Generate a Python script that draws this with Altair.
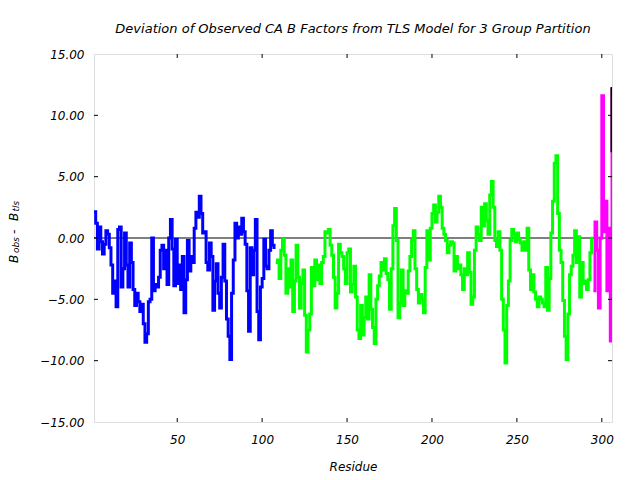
import altair as alt
import pandas as pd

# ---------------- data ----------------
blue_res = list(range(1, 108))
blue_vals = [
    2.15, 1.2, -0.9, 0.9, -0.3, -1.3, -0.5, 0.6, 0.3, -0.8,
    -2.2, -4.5, -3.5, -5.6, 0.7, 0.9, -4.0, -2.5, 0.4, -2.2,
    -4.0, -0.4, -2.0, -4.2, -5.5, -4.5, -5.2, -6.0, -5.4, -7.0,
    -8.5, -7.8, -5.2, -5.0, 0.0, -4.3, -3.8, -4.0, -3.2, -1.0,
    -0.6, -2.5, -1.0, -3.8, 0.0, 1.5, -0.9, -3.9, -0.1, -3.7,
    -2.2, -4.2, -1.5, -6.1, -3.4, -0.2, -2.7, -1.5, -2.0, 0.8,
    2.1, 1.7, 3.4, 2.0, 0.4, 0.5, -2.0, -2.6, -0.4, -1.5,
    -5.9, -3.5, -2.1, -4.5, -5.7, -3.2, -0.5, -3.5, -6.6, -8.0,
    -9.9, -4.5, -1.8, 1.2, 0.0, 0.9, 0.3, 1.6, 0.5, -0.5,
    -4.3, -7.6, -0.8, -3.0, -1.0, 1.5, -6.0, -8.3, -4.0, -3.3,
    -0.1, -2.3, -2.5, -1.0, 0.6, -0.6, -0.9,
]
green_res = list(range(108, 295))
green_vals = [
    -2.0, -1.8, -3.3, -1.0, -0.1, -1.4, -4.5, -2.5, -4.0, -1.8,
    -6.0, -3.5, -0.6, -3.2, -5.7, -3.7, -2.6, -6.3, -9.3, -7.5,
    -6.2, -2.4, -3.9, -1.8, -3.4, -2.2, -3.7, -2.0, -1.5, 0.5,
    0.4, 0.7, -0.6, -1.4, -3.2, -5.7, -4.5, -0.5, -1.2, -1.5,
    -2.5, -3.7, -1.2, -0.9, -4.4, -3.8, -2.3, -4.8, -7.5, -8.2,
    -5.5, -7.9, -6.5, -4.8, -6.6, -3.0, -5.8, -7.3, -8.6, -5.0,
    -3.9, -3.1, -2.0, -2.6, -1.7, -2.9, -3.4, -5.8, -2.5, 1.0,
    2.4, -0.2, -6.5, -5.3, -2.6, -5.5, -4.3, -4.5, -2.7, -1.5,
    -0.2, 0.6, -2.5, -4.2, -5.3, -4.6, -5.0, -6.1, -2.4, 0.6,
    -1.8, 0.8, 2.0, 2.7, 1.3, 2.1, 3.4, 2.5, 0.8, 0.3,
    -0.2, -1.2, -0.6, -0.3, -0.4, -2.7, -1.5, -2.5, -2.2, -3.0,
    -4.2, -2.5, -3.0, -1.2, -2.8, -5.4, -4.8, -1.0, 0.9, 0.3,
    -0.2, 2.5, 1.0, 2.8, 1.4, 0.3, 3.5, 4.6, 2.5, -0.2,
    -0.7, 0.5, -1.0, -5.0, -7.5, -10.2, -5.5, -3.5, -0.2, 0.7,
    0.3, -0.3, 0.4, -0.1, -0.4, -1.0, -0.3, -1.0, 0.8, -2.6,
    -4.2, -3.0, -4.4, -5.0, -5.6, -4.8, -5.0, -5.3, -5.6, -2.4,
    -5.9, -3.3, 0.4, 3.0, 6.1, 6.7, 2.0, -1.0, -2.0, -5.1,
    -8.0, -9.9, -6.2, -3.0, -2.3, -1.4, 0.6, -2.0, 0.1, -4.8,
    -2.0, -3.7, -3.5, -4.2, -3.4, -1.2, 0.1,
]
magenta_res = list(range(295, 307))
magenta_vals = [-4.3, 1.3, -1.0, -5.7, 0.0, 11.6, 0.5, 3.0, -4.3, 0.8, -8.4, 12.2]
black_res = [306, 306]
black_vals = [12.3, 7.0]

groups = ["g1", "g2", "g3", "g4"]
group_colors = ["#0000ff", "#00ff00", "#ff00ff", "#000000"]

x_ticks = [50, 100, 150, 200, 250, 300]
y_ticks = [-15, -10, -5, 0, 5, 10, 15]
y_inner_ticks = [-10, -5, 0, 5, 10]

title_text = "Deviation of Observed CA B Factors from TLS Model for 3 Group Partition"
x_title = "Residue"

# ---------------- table ----------------
rows = []
idx = 0
for g, res, vals in zip(groups,
                        [blue_res, green_res, magenta_res, black_res],
                        [blue_vals, green_vals, magenta_vals, black_vals]):
    assert len(res) == len(vals)
    for r, v in zip(res, vals):
        rows.append({"residue": r, "value": v, "group": g, "idx": idx})
        idx += 1
df = pd.DataFrame(rows)

W, H = 518, 368
FONT = "DejaVu Sans"

xscale = alt.Scale(domain=[1, 306], nice=False, zero=False)
yscale = alt.Scale(domain=[-15, 15], nice=False, zero=False)

x_axis = alt.Axis(values=x_ticks, format="d", grid=False, domain=False, ticks=False,
                  tickSize=0, labelPadding=12, labelFont=FONT, labelFontSize=12,
                  labelFontStyle="italic", labelColor="black", title=x_title,
                  titleFont=FONT, titleFontSize=12, titleFontStyle="italic",
                  titleFontWeight="normal", titleColor="black", titlePadding=16)
y_axis = alt.Axis(values=y_ticks, grid=False, domain=False, ticks=False, tickSize=0,
                  labelPadding=10, labelFont=FONT, labelFontSize=12,
                  labelFontStyle="italic", labelColor="black", format=".2f",
                  title=None)

lines = alt.Chart(df).mark_line(interpolate="step-after", strokeWidth=3, clip=True).encode(
    x=alt.X("residue:Q", scale=xscale, axis=x_axis),
    y=alt.Y("value:Q", scale=yscale, axis=y_axis),
    color=alt.Color("group:N", scale=alt.Scale(domain=groups, range=group_colors), legend=None),
    detail="group:N",
    order="idx:Q",
)

zero = alt.Chart(pd.DataFrame({"y": [0]})).mark_rule(color="black", strokeWidth=1).encode(
    y=alt.Y("y:Q", scale=yscale)
)

xt = pd.DataFrame({"t": x_ticks})
yt = pd.DataFrame({"t": y_inner_ticks})
tick_bottom = alt.Chart(xt).mark_rule(color="black", strokeWidth=1).encode(
    x=alt.X("t:Q", scale=xscale), y=alt.value(H), y2=alt.value(H - 4))
tick_top = alt.Chart(xt).mark_rule(color="black", strokeWidth=1).encode(
    x=alt.X("t:Q", scale=xscale), y=alt.value(0), y2=alt.value(4))
tick_left = alt.Chart(yt).mark_rule(color="black", strokeWidth=1).encode(
    y=alt.Y("t:Q", scale=yscale), x=alt.value(0), x2=alt.value(4))
tick_right = alt.Chart(yt).mark_rule(color="black", strokeWidth=1).encode(
    y=alt.Y("t:Q", scale=yscale), x=alt.value(W), x2=alt.value(W - 4))

# y-axis title with subscripts: B_obs - B_tls
ylab_parts = [
    ("B", 12, -76.5, 209),
    ("obs", 9, -75, 199),
    ("-", 12, -76.5, 180),
    ("B", 12, -76.5, 167),
    ("tls", 9, -75, 157.5),
]
ylabs = []
for txt, fs, px, py in ylab_parts:
    ylabs.append(
        alt.Chart(pd.DataFrame({"t": [txt]})).mark_text(
            angle=270, align="left", baseline="alphabetic", font=FONT,
            fontSize=fs, fontStyle="italic", color="black", clip=False
        ).encode(text="t:N", x=alt.value(px), y=alt.value(py))
    )

chart = alt.layer(zero, lines, tick_bottom, tick_top, tick_left, tick_right, *ylabs).properties(
    width=W,
    height=H,
    title=alt.TitleParams(title_text, font=FONT, fontSize=13, fontStyle="italic",
                          fontWeight="normal", color="black", offset=12, anchor="middle"),
    autosize=alt.AutoSizeParams(type="none"),
    padding={"left": 86, "top": 46, "right": 20, "bottom": 50},
).configure_view(stroke="black", strokeWidth=1).configure(background="white")

chart.save("out.html", embed_options={"renderer": "svg", "actions": False})
